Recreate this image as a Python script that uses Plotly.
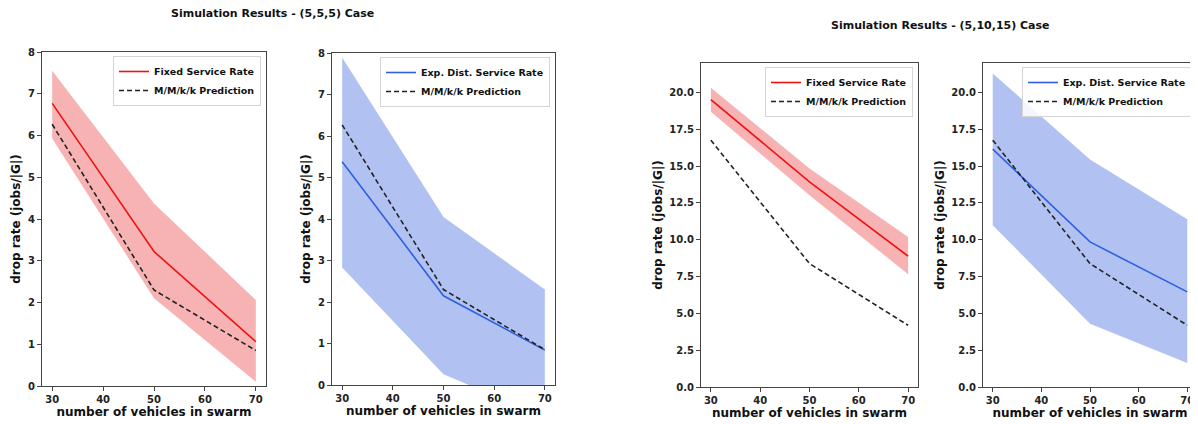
import plotly.graph_objects as go

vehicles = [30, 50, 70]

# (5,5,5) case
c1_fixed_mean = [6.77, 3.22, 1.06]
c1_fixed_upper = [7.55, 4.37, 2.06]
c1_fixed_lower = [5.93, 2.10, 0.10]
c1_exp_mean = [5.38, 2.15, 0.84]
c1_exp_upper = [7.89, 4.05, 2.30]
c1_exp_lower = [2.83, 0.26, -0.78]
c1_mmkk = [6.27, 2.30, 0.85]

# (5,10,15) case
c2_fixed_mean = [19.52, 13.93, 8.88]
c2_fixed_upper = [20.32, 14.84, 10.19]
c2_fixed_lower = [18.69, 13.02, 7.66]
c2_exp_mean = [16.15, 9.85, 6.46]
c2_exp_upper = [21.29, 15.45, 11.39]
c2_exp_lower = [10.99, 4.30, 1.63]
c2_mmkk = [16.76, 8.38, 4.19]

x_ticks = [30, 40, 50, 60, 70]
titles = ["Simulation Results - (5,5,5) Case", "Simulation Results - (5,10,15) Case"]
x_title = "number of vehicles in swarm"
y_title = "drop rate (jobs/|G|)"

OFF = 8  # page body margin
W, H = 1198 - OFF, 424 - OFF
FONT = "DejaVu Sans"
RED = "#f01010"
RED_FILL = "rgba(240,110,110,0.52)"
BLUE = "#2f5fe0"
BLUE_FILL = "rgba(70,110,225,0.42)"

# axis boxes in page pixels: (left, right, top, bottom)
boxes = [(42, 266, 52, 386), (332, 555, 53, 385), (701, 918, 63, 387), (983, 1197, 63, 387)]


def px(v):
    return (v - OFF) / W


def py(v):
    return 1 - (v - OFF) / H


panels = [
    (c1_fixed_mean, c1_fixed_upper, c1_fixed_lower, c1_mmkk, "Fixed Service Rate", RED, RED_FILL),
    (c1_exp_mean, c1_exp_upper, c1_exp_lower, c1_mmkk, "Exp. Dist. Service Rate", BLUE, BLUE_FILL),
    (c2_fixed_mean, c2_fixed_upper, c2_fixed_lower, c2_mmkk, "Fixed Service Rate", RED, RED_FILL),
    (c2_exp_mean, c2_exp_upper, c2_exp_lower, c2_mmkk, "Exp. Dist. Service Rate", BLUE, BLUE_FILL),
]

fig = go.Figure()
layout = {}
for i, (mean, up, lo, mm, name, col, fcol) in enumerate(panels):
    n = i + 1
    xa = "x" if n == 1 else f"x{n}"
    ya = "y" if n == 1 else f"y{n}"
    lg = "legend" if n == 1 else f"legend{n}"
    fig.add_trace(go.Scatter(x=vehicles, y=up, mode="lines", line=dict(width=0, color=fcol),
                             showlegend=False, xaxis=xa, yaxis=ya, hoverinfo="skip", legend=lg))
    fig.add_trace(go.Scatter(x=vehicles, y=lo, mode="lines", line=dict(width=0, color=fcol),
                             fill="tonexty", fillcolor=fcol, showlegend=False, xaxis=xa, yaxis=ya,
                             hoverinfo="skip", legend=lg))
    fig.add_trace(go.Scatter(x=vehicles, y=mean, mode="lines", name=name, line=dict(color=col, width=1.6),
                             xaxis=xa, yaxis=ya, legend=lg))
    fig.add_trace(go.Scatter(x=vehicles, y=mm, mode="lines", name="M/M/k/k Prediction",
                             line=dict(color="#222222", width=1.6, dash="5px,3px"),
                             xaxis=xa, yaxis=ya, legend=lg))

    l, r, t, b = boxes[i]
    axcommon = dict(showline=True, mirror=True, linecolor="#444444", linewidth=1, showgrid=False,
                    zeroline=False, ticks="outside", ticklen=4, tickcolor="#444444", automargin=False,
                    tickfont=dict(family=FONT, size=10, color="#222222", weight="bold"))
    xkey = "xaxis" if n == 1 else f"xaxis{n}"
    ykey = "yaxis" if n == 1 else f"yaxis{n}"
    layout[xkey] = dict(domain=[px(l), px(r)], anchor=ya, range=[28, 72], tickvals=x_ticks,
                        title=dict(text=x_title, standoff=2,
                                   font=dict(family=FONT, size=12, color="#111111", weight="bold")),
                        **axcommon)
    if i < 2:
        yr = dict(range=[0, 8], dtick=1, tickformat="d")
    else:
        yr = dict(range=[0, 22], dtick=2.5, tickformat=".1f")
    layout[ykey] = dict(domain=[py(b), py(t)], anchor=xa,
                        title=dict(text=y_title, standoff=4,
                                   font=dict(family=FONT, size=12, color="#111111", weight="bold")),
                        **yr, **axcommon)
    layout[lg] = dict(x=px(r - 5), y=py(t + 4), xanchor="right", yanchor="top",
                      xref="paper", yref="paper", traceorder="normal",
                      bgcolor="rgba(255,255,255,0.85)", bordercolor="#d5d5d5", borderwidth=1,
                      font=dict(family=FONT, size=9.5, color="#111111", weight="bold"),
                      itemwidth=30, tracegroupgap=0)

fig.update_layout(**layout)
fig.update_layout(
    width=W, height=H, margin=dict(l=0, r=0, t=0, b=0, autoexpand=False),
    paper_bgcolor="white", plot_bgcolor="white",
    annotations=[
        dict(text=titles[0], x=px(272), y=py(14), xref="paper", yref="paper", showarrow=False,
             xanchor="center", yanchor="middle",
             font=dict(family=FONT, size=11, color="#111111", weight="bold")),
        dict(text=titles[1], x=px(940), y=py(26), xref="paper", yref="paper", showarrow=False,
             xanchor="center", yanchor="middle",
             font=dict(family=FONT, size=11, color="#111111", weight="bold")),
    ],
)

fig.write_html("out.html")
